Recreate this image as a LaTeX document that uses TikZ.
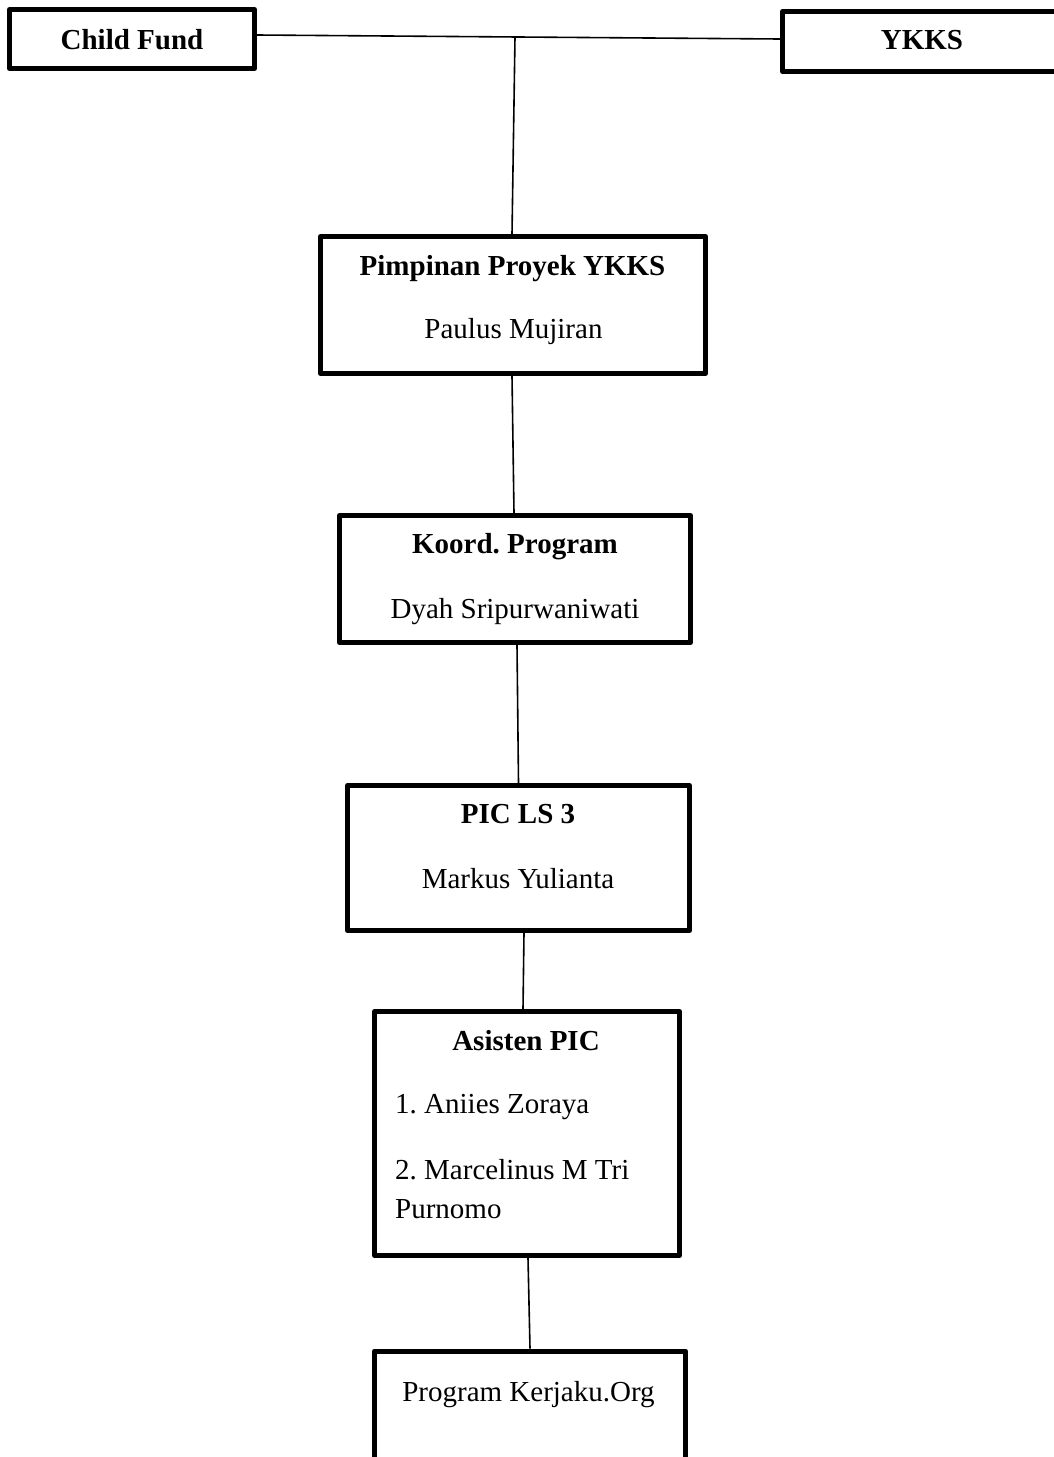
\documentclass[tikz,border=0pt]{standalone}
\usepackage{fontspec}
\setmainfont{Liberation Serif}
\begin{document}
\frenchspacing
\begin{tikzpicture}[x=1pt,y=-1pt,
  box/.style={draw, line width=5pt, line join=round, inner sep=0pt},
  conn/.style={line width=1.6pt},
  txt/.style={anchor=base, inner sep=0pt, font=\fontsize{29}{39}\selectfont},
  btxt/.style={txt, font=\fontsize{29}{39}\selectfont\bfseries}]
\useasboundingbox (0,0) rectangle (1054,1457);
% boxes
\node[box, minimum width=245pt, minimum height=59pt] (cf) at (132,39) {};
\node[btxt] (cft) at (132,49) {Child Fund};
\node[box, minimum width=279pt, minimum height=60pt] (yk) at (922,41.5) {};
\node[btxt] (ykt) at (922,49) {YKKS};
\node[box, minimum width=385pt, minimum height=137pt] (pp) at (513,305) {};
\node[btxt] (ppt) at (512.5,275) {Pimpinan Proyek YKKS};
\node[txt] (ppn) at (513.5,338) {Paulus Mujiran};
\node[box, minimum width=351pt, minimum height=127pt] (kp) at (515,579) {};
\node[btxt] (kpt) at (515,553) {Koord. Program};
\node[txt] (kpn) at (515,618) {Dyah Sripurwaniwati};
\node[box, minimum width=342pt, minimum height=145pt] (pic) at (518.5,858) {};
\node[btxt] (pict) at (518,823) {PIC LS 3};
\node[txt] (picn) at (518,888) {Markus Yulianta};
\node[box, minimum width=305pt, minimum height=244pt] (as) at (527,1133.5) {};
\node[btxt] (ast) at (526,1050) {Asisten PIC};
\node[txt, anchor=base west] (as1) at (395,1113) {1. Aniies Zoraya};
\node[txt, anchor=base west] (as2) at (395,1179) {2. Marcelinus M Tri};
\node[txt, anchor=base west] (as3) at (395,1218) {Purnomo};
\node[box, minimum width=311pt, minimum height=169pt] (pk) at (530,1435.5) {};
\node[txt] (pkt) at (528.5,1401) {Program Kerjaku.Org};
% connectors
\coordinate (j) at (515,37);
\draw[conn] ([yshift=4pt]cf.east) -- ([yshift=2.5pt]yk.west);
\draw[conn] (j) -- ([xshift=-1pt]pp.north);
\draw[conn] ([xshift=-1pt]pp.south) -- ([xshift=-1pt]kp.north);
\draw[conn] ([xshift=2pt]kp.south) -- (pic.north);
\draw[conn] ([xshift=5.5pt]pic.south) -- ([xshift=-4pt]as.north);
\draw[conn] ([xshift=1pt]as.south) -- (pk.north);
\end{tikzpicture}
\end{document}
